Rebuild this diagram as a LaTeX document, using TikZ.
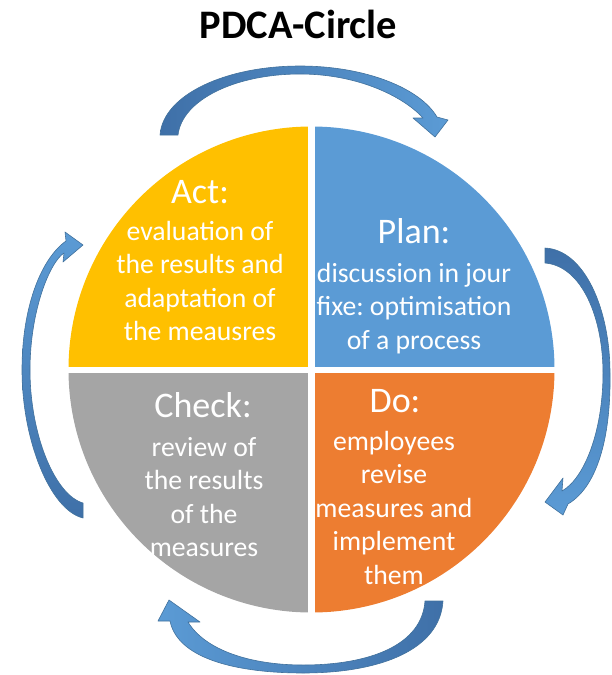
\documentclass[tikz,border=0pt]{standalone}
\usepackage{fontspec}
\setmainfont{Carlito}
\frenchspacing
\definecolor{actc}{HTML}{FFC000}
\definecolor{planc}{HTML}{5B9BD5}
\definecolor{checkc}{HTML}{A5A5A5}
\definecolor{doc}{HTML}{ED7D31}
\definecolor{adark}{HTML}{3F70A8}
\definecolor{alight}{HTML}{5B9BD5}
\definecolor{aedge}{HTML}{41719C}
\tikzset{
  arrowshape/.style={draw=aedge, line width=0.6pt, line join=round},
  headtext/.style={text=white, inner sep=0pt, anchor=base, font=\fontsize{36}{40}\selectfont},
  bodytext/.style={text=white, inner sep=0pt, anchor=base, align=center, font=\fontsize{27.7}{33.5}\selectfont},
}
\begin{document}
\begin{tikzpicture}[x=1pt,y=-1pt]
\useasboundingbox (0,0) rectangle (611,675);
\coordinate (C) at (311.5,369.5);
\begin{scope}
\clip (C) circle (243);
\fill[actc] (0,0) rectangle (308,366.5);
\fill[planc] (315,0) rectangle (611,366.5);
\fill[checkc] (0,372.5) rectangle (308,675);
\fill[doc] (315,372.5) rectangle (611,675);
\end{scope}

\node[inner sep=0pt, anchor=base, font=\fontsize{40.5}{44}\selectfont\bfseries] (title) at (298.5,38) {PDCA-Circle};

% body nodes: anchor base = baseline of the last line
\node[headtext] (acth) at (200,203) {Act:};
\node[bodytext] (actb) at (200,340.5) {evaluation of\\the results and\\adaptation of\\the meausres};
\node[headtext] (planh) at (414,243) {Plan:};
\node[bodytext] (planb) at (414,349) {discussion in jour\\fixe: optimisation\\of a process};
\node[headtext] (checkh) at (203,417) {Check:};
\node[bodytext] (checkb) at (204,556.5) {review of\\the results\\of the\\measures};
\node[headtext] (doh) at (395,412) {Do:};
\node[bodytext] (dob) at (394,584) {employees\\revise\\measures and\\implement\\them};

% top arrow
\shade[arrowshape, left color=adark, right color=alight]
 (160,135) .. controls (163,95) and (225,66) .. (300,66)
 .. controls (365,66) and (420,88) .. (437,117)
 -- (448,120) -- (435,137) -- (413,118) -- (423,118)
 .. controls (405,98) and (360,74) .. (300,74)
 .. controls (235,74) and (182,100) .. (178,135) -- cycle;
% right arrow
\shade[arrowshape, top color=adark, bottom color=alight]
 (545,248) .. controls (585,250) and (610,310) .. (610,373)
 .. controls (611,430) and (600,485) .. (568,504)
 -- (563,515) -- (545,502) -- (563,478) -- (562,491)
 .. controls (585,478) and (603,430) .. (603,373)
 .. controls (603,318) and (582,266) .. (545,263) -- cycle;
% bottom arrow
\shade[arrowshape, right color=adark, left color=alight]
 (443,601) .. controls (440,650) and (380,673) .. (303,673)
 .. controls (240,673) and (178,660) .. (170,621)
 -- (158,621) -- (169,600) -- (200,622) -- (188,622)
 .. controls (205,650) and (250,665) .. (303,665)
 .. controls (370,665) and (422,645) .. (425,601) -- cycle;
% left arrow
\shade[arrowshape, bottom color=adark, top color=alight]
 (83,518) .. controls (50,510) and (22,440) .. (22,370)
 .. controls (22,305) and (42,258) .. (66,241)
 -- (65,232) -- (83,245) -- (63,262) -- (64,253)
 .. controls (50,262) and (30,310) .. (30,370)
 .. controls (30,435) and (55,495) .. (83,503) -- cycle;
\end{tikzpicture}
\end{document}
